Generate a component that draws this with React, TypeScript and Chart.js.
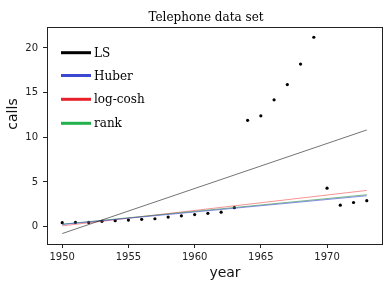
import React, { useEffect, useRef } from "react";
import { Chart, registerables } from "chart.js";

Chart.register(...registerables);

const years = [1950, 1951, 1952, 1953, 1954, 1955, 1956, 1957, 1958, 1959, 1960, 1961, 1962, 1963, 1964, 1965, 1966, 1967, 1968, 1969, 1970, 1971, 1972, 1973];
const calls = [0.44, 0.47, 0.47, 0.59, 0.66, 0.73, 0.81, 0.88, 1.06, 1.2, 1.35, 1.49, 1.61, 2.12, 11.9, 12.4, 14.2, 15.9, 18.2, 21.2, 4.3, 2.4, 2.7, 2.9];

const fitYears = [1950, 1973];
const lsFit = [-0.78, 10.82];
const huberFit = [0.24, 3.45];
const logcoshFit = [0.08, 4.05];
const rankFit = [0.27, 3.57];

const legendLabels = ["LS", "Huber", "log-cosh", "rank"];
const legendColors = ["#000000", "#3c48cf", "#e8202a", "#22b14c"];

const xTicks = [1950, 1955, 1960, 1965, 1970];
const yTicks = [0, 5, 10, 15, 20];

const toPts = (xs: number[], ys: number[]) => xs.map((x, i) => ({ x, y: ys[i] }));

export default function App() {
  const ref = useRef<HTMLCanvasElement | null>(null);
  useEffect(() => {
    document.body.style.margin = "0";
    const canvas = ref.current;
    if (!canvas) return;

    const deco = {
      id: "deco",
      afterDraw(chart: any) {
        const { ctx, chartArea } = chart;
        ctx.save();
        // frame
        ctx.strokeStyle = "#222";
        ctx.lineWidth = 1;
        ctx.strokeRect(chartArea.left + 0.5, chartArea.top + 0.5, chartArea.right - chartArea.left, chartArea.bottom - chartArea.top);
        // title
        ctx.fillStyle = "#000";
        ctx.font = "12px 'DejaVu Serif'";
        ctx.textAlign = "center";
        ctx.textBaseline = "alphabetic";
        ctx.fillText("Telephone data set", 206, 21);
        // axis labels
        ctx.font = "14px 'DejaVu Sans'";
        ctx.fillStyle = "#111";
        ctx.fillText("year", 225, 277);
        ctx.save();
        ctx.translate(17, 114);
        ctx.rotate(-Math.PI / 2);
        ctx.fillText("calls", 0, 0);
        ctx.restore();
        // legend
        const ys = [52.7, 75.5, 99.3, 123.3];
        ctx.textAlign = "left";
        ctx.font = "12px 'DejaVu Serif'";
        legendLabels.forEach((lab, i) => {
          ctx.strokeStyle = legendColors[i];
          ctx.lineWidth = 3;
          ctx.beginPath();
          ctx.moveTo(61, ys[i]);
          ctx.lineTo(91, ys[i]);
          ctx.stroke();
          ctx.fillStyle = "#000";
          ctx.fillText(lab, 94, ys[i] + 4);
        });
        ctx.restore();
      },
    };

    const chart = new Chart(canvas, {
      type: "scatter",
      data: {
        datasets: [
          {
            type: "line",
            data: toPts(fitYears, lsFit),
            borderColor: "rgba(0,0,0,0.55)",
            borderWidth: 1,
            pointRadius: 0,
            showLine: true,
            fill: false,
          },
          {
            type: "line",
            data: toPts(fitYears, huberFit),
            borderColor: "rgba(60,72,207,0.6)",
            borderWidth: 1,
            pointRadius: 0,
            showLine: true,
            fill: false,
          },
          {
            type: "line",
            data: toPts(fitYears, rankFit),
            borderColor: "rgba(34,140,60,0.6)",
            borderWidth: 1,
            pointRadius: 0,
            showLine: true,
            fill: false,
          },
          {
            type: "line",
            data: toPts(fitYears, logcoshFit),
            borderColor: "rgba(240,60,60,0.55)",
            borderWidth: 1,
            pointRadius: 0,
            showLine: true,
            fill: false,
          },
          {
            data: toPts(years, calls),
            backgroundColor: "#000",
            borderColor: "#000",
            pointRadius: 1.6,
            borderWidth: 0,
          },
        ],
      },
      options: {
        responsive: false,
        animation: false,
        layout: { padding: { top: 27, right: 9, left: 0, bottom: 0 } },
        plugins: { legend: { display: false }, tooltip: { enabled: false }, title: { display: false } },
        scales: {
          x: {
            type: "linear",
            min: 1948.85,
            max: 1974.15,
            afterFit: (s: any) => { s.height = 44; },
            afterBuildTicks: (s: any) => { s.ticks = xTicks.map((v) => ({ value: v })); },
            grid: { drawOnChartArea: false, drawTicks: true, tickLength: 4, tickColor: "#222" },
            border: { display: true, color: "#222" },
            ticks: { color: "#222", font: { family: "'DejaVu Sans'", size: 10 }, padding: 3, callback: (v: any) => String(v), maxRotation: 0 },
          },
          y: {
            type: "linear",
            min: -1.95,
            max: 22.35,
            afterFit: (s: any) => { s.width = 47; },
            afterBuildTicks: (s: any) => { s.ticks = yTicks.map((v) => ({ value: v })); },
            grid: { drawOnChartArea: false, drawTicks: true, tickLength: 4, tickColor: "#222" },
            border: { display: true, color: "#222" },
            ticks: { color: "#222", font: { family: "'DejaVu Sans'", size: 10 }, padding: 5, callback: (v: any) => String(v) },
          },
        },
      },
      plugins: [deco],
    });
    return () => chart.destroy();
  }, []);
  return (
    <div style={{ width: 391, height: 288, background: "#fff" }}>
      <canvas ref={ref} width={391} height={288} style={{ display: "block" }} />
    </div>
  );
}
